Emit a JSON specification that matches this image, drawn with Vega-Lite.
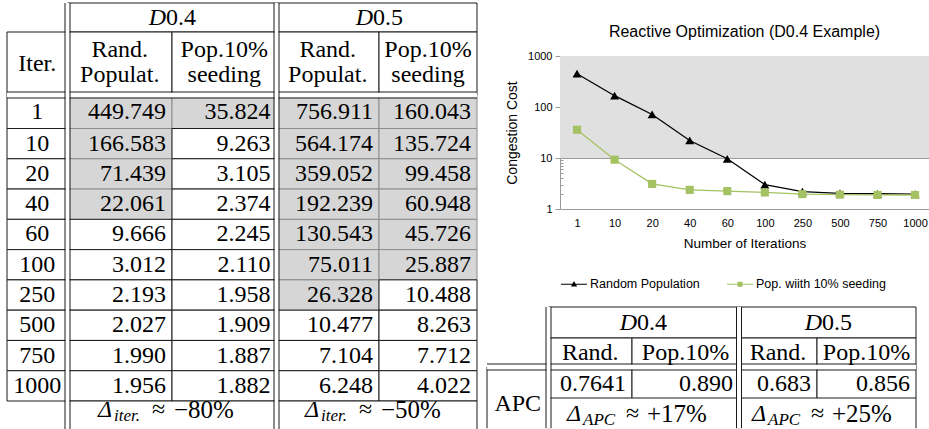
{
  "$schema": "https://vega.github.io/schema/vega-lite/v6.json",
  "padding": 0,
  "background": "white",
  "bounds": "flush",
  "spacing": 82,
  "resolve": {"scale": {"color": "independent"}, "legend": {"color": "independent"}},
  "config": {
    "view": {"stroke": null},
    "font": "Liberation Sans",
    "axis": {"labelFont": "Liberation Sans", "titleFont": "Liberation Sans", "labelColor": "#000", "titleColor": "#000"},
    "axisY": {"titleFontSize": 14, "titleFontWeight": "normal"},
    "axisX": {"titleFontSize": 13.5, "titleFontWeight": "normal"},
    "legend": {"labelFont": "Liberation Sans"}
  },
  "datasets": {
    "cost": [
      {"iter": 1, "series": "Random Population", "value": 449.749},
      {"iter": 10, "series": "Random Population", "value": 166.583},
      {"iter": 20, "series": "Random Population", "value": 71.439},
      {"iter": 40, "series": "Random Population", "value": 22.061},
      {"iter": 60, "series": "Random Population", "value": 9.666},
      {"iter": 100, "series": "Random Population", "value": 3.012},
      {"iter": 250, "series": "Random Population", "value": 2.193},
      {"iter": 500, "series": "Random Population", "value": 2.027},
      {"iter": 750, "series": "Random Population", "value": 1.990},
      {"iter": 1000, "series": "Random Population", "value": 1.956},
      {"iter": 1, "series": "Pop. wiith 10% seeding", "value": 35.824},
      {"iter": 10, "series": "Pop. wiith 10% seeding", "value": 9.263},
      {"iter": 20, "series": "Pop. wiith 10% seeding", "value": 3.105},
      {"iter": 40, "series": "Pop. wiith 10% seeding", "value": 2.374},
      {"iter": 60, "series": "Pop. wiith 10% seeding", "value": 2.245},
      {"iter": 100, "series": "Pop. wiith 10% seeding", "value": 2.110},
      {"iter": 250, "series": "Pop. wiith 10% seeding", "value": 1.958},
      {"iter": 500, "series": "Pop. wiith 10% seeding", "value": 1.909},
      {"iter": 750, "series": "Pop. wiith 10% seeding", "value": 1.887},
      {"iter": 1000, "series": "Pop. wiith 10% seeding", "value": 1.882}
    ],
    "leftTable": [
      {"row": 0, "col": 1, "colspan": 2, "kind": "dhead", "text": "D0.4"},
      {"row": 0, "col": 3, "colspan": 2, "kind": "dhead", "text": "D0.5"},
      {"row": 1, "col": 0, "kind": "head", "text": "Iter."},
      {"row": 1, "col": 1, "kind": "head2", "text": "Rand.\nPopulat."},
      {"row": 1, "col": 2, "kind": "head2", "text": "Pop.10%\nseeding"},
      {"row": 1, "col": 3, "kind": "head2", "text": "Rand.\nPopulat."},
      {"row": 1, "col": 4, "kind": "head2", "text": "Pop.10%\nseeding"},
      {"row": 2, "col": 0, "kind": "iter", "text": "1"},
      {"row": 2, "col": 1, "kind": "val", "text": "449.749", "shaded": true},
      {"row": 2, "col": 2, "kind": "val", "text": "35.824", "shaded": true},
      {"row": 2, "col": 3, "kind": "val", "text": "756.911", "shaded": true},
      {"row": 2, "col": 4, "kind": "val", "text": "160.043", "shaded": true},
      {"row": 3, "col": 0, "kind": "iter", "text": "10"},
      {"row": 3, "col": 1, "kind": "val", "text": "166.583", "shaded": true},
      {"row": 3, "col": 2, "kind": "val", "text": "9.263"},
      {"row": 3, "col": 3, "kind": "val", "text": "564.174", "shaded": true},
      {"row": 3, "col": 4, "kind": "val", "text": "135.724", "shaded": true},
      {"row": 4, "col": 0, "kind": "iter", "text": "20"},
      {"row": 4, "col": 1, "kind": "val", "text": "71.439", "shaded": true},
      {"row": 4, "col": 2, "kind": "val", "text": "3.105"},
      {"row": 4, "col": 3, "kind": "val", "text": "359.052", "shaded": true},
      {"row": 4, "col": 4, "kind": "val", "text": "99.458", "shaded": true},
      {"row": 5, "col": 0, "kind": "iter", "text": "40"},
      {"row": 5, "col": 1, "kind": "val", "text": "22.061", "shaded": true},
      {"row": 5, "col": 2, "kind": "val", "text": "2.374"},
      {"row": 5, "col": 3, "kind": "val", "text": "192.239", "shaded": true},
      {"row": 5, "col": 4, "kind": "val", "text": "60.948", "shaded": true},
      {"row": 6, "col": 0, "kind": "iter", "text": "60"},
      {"row": 6, "col": 1, "kind": "val", "text": "9.666"},
      {"row": 6, "col": 2, "kind": "val", "text": "2.245"},
      {"row": 6, "col": 3, "kind": "val", "text": "130.543", "shaded": true},
      {"row": 6, "col": 4, "kind": "val", "text": "45.726", "shaded": true},
      {"row": 7, "col": 0, "kind": "iter", "text": "100"},
      {"row": 7, "col": 1, "kind": "val", "text": "3.012"},
      {"row": 7, "col": 2, "kind": "val", "text": "2.110"},
      {"row": 7, "col": 3, "kind": "val", "text": "75.011", "shaded": true},
      {"row": 7, "col": 4, "kind": "val", "text": "25.887", "shaded": true},
      {"row": 8, "col": 0, "kind": "iter", "text": "250"},
      {"row": 8, "col": 1, "kind": "val", "text": "2.193"},
      {"row": 8, "col": 2, "kind": "val", "text": "1.958"},
      {"row": 8, "col": 3, "kind": "val", "text": "26.328", "shaded": true},
      {"row": 8, "col": 4, "kind": "val", "text": "10.488"},
      {"row": 9, "col": 0, "kind": "iter", "text": "500"},
      {"row": 9, "col": 1, "kind": "val", "text": "2.027"},
      {"row": 9, "col": 2, "kind": "val", "text": "1.909"},
      {"row": 9, "col": 3, "kind": "val", "text": "10.477"},
      {"row": 9, "col": 4, "kind": "val", "text": "8.263"},
      {"row": 10, "col": 0, "kind": "iter", "text": "750"},
      {"row": 10, "col": 1, "kind": "val", "text": "1.990"},
      {"row": 10, "col": 2, "kind": "val", "text": "1.887"},
      {"row": 10, "col": 3, "kind": "val", "text": "7.104"},
      {"row": 10, "col": 4, "kind": "val", "text": "7.712"},
      {"row": 11, "col": 0, "kind": "iter", "text": "1000"},
      {"row": 11, "col": 1, "kind": "val", "text": "1.956"},
      {"row": 11, "col": 2, "kind": "val", "text": "1.882"},
      {"row": 11, "col": 3, "kind": "val", "text": "6.248"},
      {"row": 11, "col": 4, "kind": "val", "text": "4.022"},
      {"row": 12, "col": 1, "colspan": 2, "kind": "delta", "sym": "Δ", "sub": "iter.", "text": "≈ −80%"},
      {"row": 12, "col": 3, "colspan": 2, "kind": "delta", "sym": "Δ", "sub": "iter.", "text": "≈ −50%"}
    ],
    "smallTable": [
      {"row": 0, "col": 1, "colspan": 2, "kind": "dhead", "text": "D0.4"},
      {"row": 0, "col": 3, "colspan": 2, "kind": "dhead", "text": "D0.5"},
      {"row": 1, "col": 1, "kind": "head", "text": "Rand."},
      {"row": 1, "col": 2, "kind": "head", "text": "Pop.10%"},
      {"row": 1, "col": 3, "kind": "head", "text": "Rand."},
      {"row": 1, "col": 4, "kind": "head", "text": "Pop.10%"},
      {"row": 2, "col": 0, "rowspan": 2, "kind": "rowhead", "text": "APC"},
      {"row": 2, "col": 1, "kind": "val", "text": "0.7641"},
      {"row": 2, "col": 2, "kind": "val", "text": "0.890"},
      {"row": 2, "col": 3, "kind": "val", "text": "0.683"},
      {"row": 2, "col": 4, "kind": "val", "text": "0.856"},
      {"row": 3, "col": 1, "colspan": 2, "kind": "delta", "sym": "Δ", "sub": "APC", "text": "≈ +17%"},
      {"row": 3, "col": 3, "colspan": 2, "kind": "delta", "sym": "Δ", "sub": "APC", "text": "≈ +25%"}
    ]
  },
  "hconcat": [
    {
      "width": 478,
      "height": 429,
      "data": {"name": "leftTable"},
      "transform": [
        {"calculate": "datum.col + (datum.colspan || 1)", "as": "c2"},
        {"calculate": "datum.row + (datum.rowspan || 1)", "as": "r2"},
        {"calculate": "(datum.col + datum.c2) / 2", "as": "cx"},
        {"calculate": "(datum.row + datum.r2) / 2", "as": "cy"},
        {"calculate": "datum.text ? split(datum.text, ' ')[0] : ''", "as": "rel"},
        {"calculate": "datum.text ? split(datum.text, ' ')[1] : ''", "as": "num"}
      ],
      "layer": [
        {
          "transform": [{"filter": "datum.shaded === true"}],
          "mark": {"type": "rect", "fill": "#d6d6d6", "stroke": "#8c8c8c", "strokeWidth": 1, "clip": true},
          "encoding": {
            "x": {"field": "col", "type": "quantitative", "scale": {"domain": [0,1,2,3,4,5], "range": [7,67.5,172,276.5,379,477], "nice": false, "zero": false}, "axis": null},
            "x2": {"field": "c2"},
            "y": {"field": "row", "type": "quantitative", "scale": {"domain": [0,1,2,3,12,13], "range": [3,32,95,128.5,401,431], "nice": false, "zero": false}, "axis": null},
            "y2": {"field": "r2"}
          }
        },
        {
          "transform": [{"filter": "datum.shaded !== true"}],
          "mark": {"type": "rect", "fill": "#ffffff", "stroke": "#1a1a1a", "strokeWidth": 1, "clip": true},
          "encoding": {
            "x": {"field": "col", "type": "quantitative", "scale": {"domain": [0,1,2,3,4,5], "range": [7,67.5,172,276.5,379,477], "nice": false, "zero": false}, "axis": null},
            "x2": {"field": "c2"},
            "y": {"field": "row", "type": "quantitative", "scale": {"domain": [0,1,2,3,12,13], "range": [3,32,95,128.5,401,431], "nice": false, "zero": false}, "axis": null},
            "y2": {"field": "r2"}
          }
        },
        {
          "data": {"values": [{"edge": 2}]},
          "mark": {"type": "rule", "color": "#ffffff", "strokeWidth": 5, "clip": true},
          "encoding": {
            "y": {"field": "edge", "type": "quantitative", "scale": {"domain": [0,1,2,3,12,13], "range": [3,32,95,128.5,401,431], "nice": false, "zero": false}, "axis": null},
            "x": {"datum": 0, "type": "quantitative", "scale": {"domain": [0,1,2,3,4,5], "range": [7,67.5,172,276.5,379,477], "nice": false, "zero": false}, "axis": null},
            "x2": {"datum": 5}
          }
        },
        {
          "data": {"values": [{"edge": 2}]},
          "mark": {"type": "rule", "color": "#1a1a1a", "strokeWidth": 1, "yOffset": -3, "clip": true},
          "encoding": {
            "y": {"field": "edge", "type": "quantitative", "scale": {"domain": [0,1,2,3,12,13], "range": [3,32,95,128.5,401,431], "nice": false, "zero": false}, "axis": null},
            "x": {"datum": 0, "type": "quantitative", "scale": {"domain": [0,1,2,3,4,5], "range": [7,67.5,172,276.5,379,477], "nice": false, "zero": false}, "axis": null},
            "x2": {"datum": 5}
          }
        },
        {
          "data": {"values": [{"edge": 2}]},
          "mark": {"type": "rule", "color": "#1a1a1a", "strokeWidth": 1, "yOffset": 3, "clip": true},
          "encoding": {
            "y": {"field": "edge", "type": "quantitative", "scale": {"domain": [0,1,2,3,12,13], "range": [3,32,95,128.5,401,431], "nice": false, "zero": false}, "axis": null},
            "x": {"datum": 0, "type": "quantitative", "scale": {"domain": [0,1,2,3,4,5], "range": [7,67.5,172,276.5,379,477], "nice": false, "zero": false}, "axis": null},
            "x2": {"datum": 5}
          }
        },
        {
          "data": {"values": [{"edge": 1}, {"edge": 3}]},
          "mark": {"type": "rule", "color": "#ffffff", "strokeWidth": 4, "clip": true},
          "encoding": {
            "x": {"field": "edge", "type": "quantitative", "scale": {"domain": [0,1,2,3,4,5], "range": [7,67.5,172,276.5,379,477], "nice": false, "zero": false}, "axis": null},
            "y": {"datum": 0, "type": "quantitative", "scale": {"domain": [0,1,2,3,12,13], "range": [3,32,95,128.5,401,431], "nice": false, "zero": false}, "axis": null},
            "y2": {"datum": 13}
          }
        },
        {
          "data": {"values": [{"edge": 1}, {"edge": 3}]},
          "mark": {"type": "rule", "color": "#1a1a1a", "strokeWidth": 1, "xOffset": -2.5, "clip": true},
          "encoding": {
            "x": {"field": "edge", "type": "quantitative", "scale": {"domain": [0,1,2,3,4,5], "range": [7,67.5,172,276.5,379,477], "nice": false, "zero": false}, "axis": null},
            "y": {"datum": 0, "type": "quantitative", "scale": {"domain": [0,1,2,3,12,13], "range": [3,32,95,128.5,401,431], "nice": false, "zero": false}, "axis": null},
            "y2": {"datum": 13}
          }
        },
        {
          "data": {"values": [{"edge": 1}, {"edge": 3}]},
          "mark": {"type": "rule", "color": "#1a1a1a", "strokeWidth": 1, "xOffset": 2.5, "clip": true},
          "encoding": {
            "x": {"field": "edge", "type": "quantitative", "scale": {"domain": [0,1,2,3,4,5], "range": [7,67.5,172,276.5,379,477], "nice": false, "zero": false}, "axis": null},
            "y": {"datum": 0, "type": "quantitative", "scale": {"domain": [0,1,2,3,12,13], "range": [3,32,95,128.5,401,431], "nice": false, "zero": false}, "axis": null},
            "y2": {"datum": 13}
          }
        },
        {
          "transform": [{"filter": "datum.kind === 'head' || datum.kind === 'iter'"}],
          "mark": {"type": "text", "font": "Liberation Serif", "fontSize": 24, "baseline": "middle", "align": "center", "color": "#000"},
          "encoding": {
            "x": {"field": "cx", "type": "quantitative", "scale": {"domain": [0,1,2,3,4,5], "range": [7,67.5,172,276.5,379,477], "nice": false, "zero": false}, "axis": null},
            "y": {"field": "cy", "type": "quantitative", "scale": {"domain": [0,1,2,3,12,13], "range": [3,32,95,128.5,401,431], "nice": false, "zero": false}, "axis": null},
            "text": {"field": "text"}
          }
        },
        {
          "transform": [{"filter": "datum.kind === 'head2'"}],
          "mark": {"type": "text", "font": "Liberation Serif", "fontSize": 24, "baseline": "middle", "align": "center", "lineBreak": "\n", "lineHeight": 25, "dy": -14, "color": "#000"},
          "encoding": {
            "x": {"field": "cx", "type": "quantitative", "scale": {"domain": [0,1,2,3,4,5], "range": [7,67.5,172,276.5,379,477], "nice": false, "zero": false}, "axis": null},
            "y": {"field": "cy", "type": "quantitative", "scale": {"domain": [0,1,2,3,12,13], "range": [3,32,95,128.5,401,431], "nice": false, "zero": false}, "axis": null},
            "text": {"field": "text"}
          }
        },
        {
          "transform": [{"filter": "datum.kind === 'val'"}],
          "mark": {"type": "text", "font": "Liberation Serif", "fontSize": 24, "baseline": "middle", "align": "right", "dx": -6, "color": "#000"},
          "encoding": {
            "x": {"field": "c2", "type": "quantitative", "scale": {"domain": [0,1,2,3,4,5], "range": [7,67.5,172,276.5,379,477], "nice": false, "zero": false}, "axis": null},
            "y": {"field": "cy", "type": "quantitative", "scale": {"domain": [0,1,2,3,12,13], "range": [3,32,95,128.5,401,431], "nice": false, "zero": false}, "axis": null},
            "text": {"field": "text"}
          }
        },
        {
          "transform": [{"filter": "datum.kind === 'dhead'"}, {"calculate": "substring(datum.text, 0, 1)", "as": "lead"}],
          "mark": {"type": "text", "font": "Liberation Serif", "fontSize": 24, "fontStyle": "italic", "baseline": "middle", "align": "right", "dx": -6, "color": "#000"},
          "encoding": {
            "x": {"field": "cx", "type": "quantitative", "scale": {"domain": [0,1,2,3,4,5], "range": [7,67.5,172,276.5,379,477], "nice": false, "zero": false}, "axis": null},
            "y": {"field": "cy", "type": "quantitative", "scale": {"domain": [0,1,2,3,12,13], "range": [3,32,95,128.5,401,431], "nice": false, "zero": false}, "axis": null},
            "text": {"field": "lead"}
          }
        },
        {
          "transform": [{"filter": "datum.kind === 'dhead'"}, {"calculate": "substring(datum.text, 1)", "as": "tail"}],
          "mark": {"type": "text", "font": "Liberation Serif", "fontSize": 24, "baseline": "middle", "align": "left", "dx": -6, "color": "#000"},
          "encoding": {
            "x": {"field": "cx", "type": "quantitative", "scale": {"domain": [0,1,2,3,4,5], "range": [7,67.5,172,276.5,379,477], "nice": false, "zero": false}, "axis": null},
            "y": {"field": "cy", "type": "quantitative", "scale": {"domain": [0,1,2,3,12,13], "range": [3,32,95,128.5,401,431], "nice": false, "zero": false}, "axis": null},
            "text": {"field": "tail"}
          }
        },
        {
          "transform": [{"filter": "datum.kind === 'delta'"}],
          "mark": {"type": "text", "font": "Liberation Serif", "fontSize": 24, "fontStyle": "italic", "baseline": "middle", "align": "left", "dx": -74, "dy": -6, "color": "#000"},
          "encoding": {
            "x": {"field": "cx", "type": "quantitative", "scale": {"domain": [0,1,2,3,4,5], "range": [7,67.5,172,276.5,379,477], "nice": false, "zero": false}, "axis": null},
            "y": {"field": "cy", "type": "quantitative", "scale": {"domain": [0,1,2,3,12,13], "range": [3,32,95,128.5,401,431], "nice": false, "zero": false}, "axis": null},
            "text": {"field": "sym"}
          }
        },
        {
          "transform": [{"filter": "datum.kind === 'delta'"}],
          "mark": {"type": "text", "font": "Liberation Serif", "fontSize": 17, "fontStyle": "italic", "baseline": "middle", "align": "left", "dx": -58, "dy": 0, "color": "#000"},
          "encoding": {
            "x": {"field": "cx", "type": "quantitative", "scale": {"domain": [0,1,2,3,4,5], "range": [7,67.5,172,276.5,379,477], "nice": false, "zero": false}, "axis": null},
            "y": {"field": "cy", "type": "quantitative", "scale": {"domain": [0,1,2,3,12,13], "range": [3,32,95,128.5,401,431], "nice": false, "zero": false}, "axis": null},
            "text": {"field": "sub"}
          }
        },
        {
          "transform": [{"filter": "datum.kind === 'delta'"}],
          "mark": {"type": "text", "font": "Liberation Serif", "fontSize": 24, "baseline": "middle", "align": "left", "dx": -20, "dy": -6, "color": "#000"},
          "encoding": {
            "x": {"field": "cx", "type": "quantitative", "scale": {"domain": [0,1,2,3,4,5], "range": [7,67.5,172,276.5,379,477], "nice": false, "zero": false}, "axis": null},
            "y": {"field": "cy", "type": "quantitative", "scale": {"domain": [0,1,2,3,12,13], "range": [3,32,95,128.5,401,431], "nice": false, "zero": false}, "axis": null},
            "text": {"field": "rel"}
          }
        },
        {
          "transform": [{"filter": "datum.kind === 'delta'"}],
          "mark": {"type": "text", "font": "Liberation Serif", "fontSize": 25, "baseline": "middle", "align": "left", "dx": 2, "dy": -6, "color": "#000"},
          "encoding": {
            "x": {"field": "cx", "type": "quantitative", "scale": {"domain": [0,1,2,3,4,5], "range": [7,67.5,172,276.5,379,477], "nice": false, "zero": false}, "axis": null},
            "y": {"field": "cy", "type": "quantitative", "scale": {"domain": [0,1,2,3,12,13], "range": [3,32,95,128.5,401,431], "nice": false, "zero": false}, "axis": null},
            "text": {"field": "num"}
          }
        }
      ]
    },
    {
      "resolve": {"scale": {"color": "independent"}, "legend": {"color": "independent"}},
      "vconcat": [
        {
          "width": 369,
          "height": 50,
          "data": {"values": [{"title": "Reactive Optimization (D0.4 Example)"}]},
          "mark": {"type": "text", "font": "Liberation Sans", "fontSize": 16, "baseline": "middle", "align": "center", "dy": 7, "color": "#000"},
          "encoding": {"text": {"field": "title"}}
        },
        {
          "width": 369,
          "height": 153,
          "data": {"name": "cost"},
          "layer": [
            {
              "data": {"values": [{"lo": 10, "hi": 1000}]},
              "mark": {"type": "rect", "color": "#e0e0e0"},
              "encoding": {
                "y": {"field": "lo", "type": "quantitative", "scale": {"type": "log", "domain": [1, 1000], "nice": false},
                  "axis": {"title": "Congestion Cost", "values": [1,2,3,4,5,6,7,8,9,10,20,30,40,50,60,70,80,90,100,200,300,400,500,600,700,800,900,1000], "format": "d",
                    "labelExpr": "(datum.value == 1 || datum.value == 10 || datum.value == 100 || datum.value == 1000) ? datum.label : ''",
                    "grid": true, "gridColor": "#9a9a9a",
                    "gridOpacity": {"condition": {"test": "datum.value == 10 || datum.value == 100 || datum.value == 1000", "value": 1}, "value": 0},
                    "tickSize": {"condition": {"test": "datum.value == 1 || datum.value == 10 || datum.value == 100 || datum.value == 1000", "value": 5}, "value": -3},
                    "tickColor": "#9a9a9a", "domainColor": "#9a9a9a", "labelFontSize": 11, "labelPadding": 3, "labelOverlap": false,
                    "titleFontSize": 14, "titleFontWeight": "normal", "titlePadding": 8}},
                "y2": {"field": "hi"}
              }
            },
            {
              "mark": {"type": "line", "strokeWidth": 1.3},
              "encoding": {
                "x": {"field": "iter", "type": "ordinal", "scale": {"type": "point", "padding": 0.412, "align": 0.55},
                  "axis": {"title": "Number of Iterations", "labelAngle": 0, "ticks": false, "labelPadding": 8, "domainColor": "#9a9a9a", "labelFontSize": 11, "titleFontSize": 13.5, "titleFontWeight": "normal", "titlePadding": 8, "grid": false}},
                "y": {"field": "value", "type": "quantitative", "scale": {"type": "log", "domain": [1, 1000], "nice": false},
                  "axis": {"title": "Congestion Cost", "values": [1,2,3,4,5,6,7,8,9,10,20,30,40,50,60,70,80,90,100,200,300,400,500,600,700,800,900,1000], "format": "d",
                    "labelExpr": "(datum.value == 1 || datum.value == 10 || datum.value == 100 || datum.value == 1000) ? datum.label : ''",
                    "grid": true, "gridColor": "#9a9a9a",
                    "gridOpacity": {"condition": {"test": "datum.value == 10 || datum.value == 100 || datum.value == 1000", "value": 1}, "value": 0},
                    "tickSize": {"condition": {"test": "datum.value == 1 || datum.value == 10 || datum.value == 100 || datum.value == 1000", "value": 5}, "value": -3},
                    "tickColor": "#9a9a9a", "domainColor": "#9a9a9a", "labelFontSize": 11, "labelPadding": 3, "labelOverlap": false,
                    "titleFontSize": 14, "titleFontWeight": "normal", "titlePadding": 8}},
                "color": {"field": "series", "type": "nominal",
                  "scale": {"domain": ["Random Population", "Pop. wiith 10% seeding"], "range": ["#000000", "#a4c262"]},
                  "legend": {"title": null, "orient": "bottom", "direction": "horizontal", "offset": 20, "labelFontSize": 12.5, "labelColor": "#000", "symbolSize": 676, "labelOffset": 2, "columnPadding": 24,
                    "encode": {"symbols": {"update": {
                      "shape": {"signal": "datum.value === 'Random Population' ? 'M-1,0H1M-0.16,0.13L0,-0.15L0.16,0.13Z' : 'M-1,0H1M-0.15,-0.15H0.15V0.15H-0.15Z'"},
                      "fill": {"signal": "datum.value === 'Random Population' ? '#000000' : '#a4c262'"},
                      "stroke": {"signal": "datum.value === 'Random Population' ? '#000000' : '#a4c262'"},
                      "strokeWidth": {"value": 1.2},
                      "opacity": {"value": 1}
                    }}}}}
              }
            },
            {
              "transform": [{"filter": "datum.series === 'Random Population'"}],
              "mark": {"type": "point", "shape": "triangle-up", "filled": true, "opacity": 1, "size": 80},
              "encoding": {
                "x": {"field": "iter", "type": "ordinal", "scale": {"type": "point", "padding": 0.412, "align": 0.55}},
                "y": {"field": "value", "type": "quantitative", "scale": {"type": "log", "domain": [1, 1000], "nice": false}},
                "color": {"field": "series", "type": "nominal", "scale": {"domain": ["Random Population", "Pop. wiith 10% seeding"], "range": ["#000000", "#a4c262"]}}
              }
            },
            {
              "transform": [{"filter": "datum.series !== 'Random Population'"}],
              "mark": {"type": "point", "shape": "square", "filled": true, "opacity": 1, "size": 66},
              "encoding": {
                "x": {"field": "iter", "type": "ordinal", "scale": {"type": "point", "padding": 0.412, "align": 0.55}},
                "y": {"field": "value", "type": "quantitative", "scale": {"type": "log", "domain": [1, 1000], "nice": false}},
                "color": {"field": "series", "type": "nominal", "scale": {"domain": ["Random Population", "Pop. wiith 10% seeding"], "range": ["#000000", "#a4c262"]}}
              }
            }
          ]
        },
        {
          "width": 369,
          "height": 214,
          "data": {"name": "smallTable"},
          "transform": [
            {"calculate": "datum.col + (datum.colspan || 1)", "as": "c2"},
            {"calculate": "datum.row + (datum.rowspan || 1)", "as": "r2"},
            {"calculate": "(datum.col + datum.c2) / 2", "as": "cx"},
            {"calculate": "(datum.row + datum.r2) / 2", "as": "cy"},
            {"calculate": "datum.text ? split(datum.text, ' ')[0] : ''", "as": "rel"},
            {"calculate": "datum.text ? split(datum.text, ' ')[1] : ''", "as": "num"}
          ],
          "layer": [
            {
              "transform": [{"filter": "datum.r2 < 4"}],
              "mark": {"type": "rect", "fill": "#ffffff", "stroke": "#1a1a1a", "strokeWidth": 1},
              "encoding": {
                "x": {"field": "col", "type": "quantitative", "scale": {"domain": [0,1,2,3,4,5], "range": [-73,-11.5,72,179,257,356], "nice": false, "zero": false}, "axis": null},
                "x2": {"field": "c2"},
                "y": {"field": "row", "type": "quantitative", "scale": {"domain": [0,1,2,3,4], "range": [92,123,152,183,225], "nice": false, "zero": false}, "axis": null},
                "y2": {"field": "r2"}
              }
            },
            {
              "transform": [{"filter": "datum.r2 >= 4"}],
              "mark": {"type": "rule", "color": "#1a1a1a", "strokeWidth": 1},
              "encoding": {
                "x": {"field": "col", "type": "quantitative", "scale": {"domain": [0,1,2,3,4,5], "range": [-73,-11.5,72,179,257,356], "nice": false, "zero": false}, "axis": null},
                "y": {"field": "row", "type": "quantitative", "scale": {"domain": [0,1,2,3,4], "range": [92,123,152,183,225], "nice": false, "zero": false}, "axis": null},
                "y2": {"datum": 3.72}
              }
            },
            {
              "transform": [{"filter": "datum.r2 >= 4"}],
              "mark": {"type": "rule", "color": "#1a1a1a", "strokeWidth": 1},
              "encoding": {
                "x": {"field": "c2", "type": "quantitative", "scale": {"domain": [0,1,2,3,4,5], "range": [-73,-11.5,72,179,257,356], "nice": false, "zero": false}, "axis": null},
                "y": {"field": "row", "type": "quantitative", "scale": {"domain": [0,1,2,3,4], "range": [92,123,152,183,225], "nice": false, "zero": false}, "axis": null},
                "y2": {"datum": 3.72}
              }
            },
            {
              "data": {"values": [{"edge": 2}]},
              "mark": {"type": "rule", "color": "#ffffff", "strokeWidth": 5},
              "encoding": {
                "y": {"field": "edge", "type": "quantitative", "scale": {"domain": [0,1,2,3,4], "range": [92,123,152,183,225], "nice": false, "zero": false}, "axis": null},
                "x": {"datum": 0, "type": "quantitative", "scale": {"domain": [0,1,2,3,4,5], "range": [-73,-11.5,72,179,257,356], "nice": false, "zero": false}, "axis": null},
                "x2": {"datum": 5}
              }
            },
            {
              "data": {"values": [{"edge": 2}]},
              "mark": {"type": "rule", "color": "#1a1a1a", "strokeWidth": 1, "yOffset": -3},
              "encoding": {
                "y": {"field": "edge", "type": "quantitative", "scale": {"domain": [0,1,2,3,4], "range": [92,123,152,183,225], "nice": false, "zero": false}, "axis": null},
                "x": {"datum": 0, "type": "quantitative", "scale": {"domain": [0,1,2,3,4,5], "range": [-73,-11.5,72,179,257,356], "nice": false, "zero": false}, "axis": null},
                "x2": {"datum": 5}
              }
            },
            {
              "data": {"values": [{"edge": 2}]},
              "mark": {"type": "rule", "color": "#1a1a1a", "strokeWidth": 1, "yOffset": 3},
              "encoding": {
                "y": {"field": "edge", "type": "quantitative", "scale": {"domain": [0,1,2,3,4], "range": [92,123,152,183,225], "nice": false, "zero": false}, "axis": null},
                "x": {"datum": 0, "type": "quantitative", "scale": {"domain": [0,1,2,3,4,5], "range": [-73,-11.5,72,179,257,356], "nice": false, "zero": false}, "axis": null},
                "x2": {"datum": 5}
              }
            },
            {
              "data": {"values": [{"edge": 1}, {"edge": 3}]},
              "mark": {"type": "rule", "color": "#ffffff", "strokeWidth": 4},
              "encoding": {
                "x": {"field": "edge", "type": "quantitative", "scale": {"domain": [0,1,2,3,4,5], "range": [-73,-11.5,72,179,257,356], "nice": false, "zero": false}, "axis": null},
                "y": {"datum": 0, "type": "quantitative", "scale": {"domain": [0,1,2,3,4], "range": [92,123,152,183,225], "nice": false, "zero": false}, "axis": null},
                "y2": {"datum": 3.72}
              }
            },
            {
              "data": {"values": [{"edge": 1}, {"edge": 3}]},
              "mark": {"type": "rule", "color": "#1a1a1a", "strokeWidth": 1, "xOffset": -2.5},
              "encoding": {
                "x": {"field": "edge", "type": "quantitative", "scale": {"domain": [0,1,2,3,4,5], "range": [-73,-11.5,72,179,257,356], "nice": false, "zero": false}, "axis": null},
                "y": {"datum": 0, "type": "quantitative", "scale": {"domain": [0,1,2,3,4], "range": [92,123,152,183,225], "nice": false, "zero": false}, "axis": null},
                "y2": {"datum": 3.72}
              }
            },
            {
              "data": {"values": [{"edge": 1}, {"edge": 3}]},
              "mark": {"type": "rule", "color": "#1a1a1a", "strokeWidth": 1, "xOffset": 2.5},
              "encoding": {
                "x": {"field": "edge", "type": "quantitative", "scale": {"domain": [0,1,2,3,4,5], "range": [-73,-11.5,72,179,257,356], "nice": false, "zero": false}, "axis": null},
                "y": {"datum": 0, "type": "quantitative", "scale": {"domain": [0,1,2,3,4], "range": [92,123,152,183,225], "nice": false, "zero": false}, "axis": null},
                "y2": {"datum": 3.72}
              }
            },
            {
              "transform": [{"filter": "datum.kind === 'head'"}],
              "mark": {"type": "text", "font": "Liberation Serif", "fontSize": 24, "baseline": "middle", "align": "center", "color": "#000"},
              "encoding": {
                "x": {"field": "cx", "type": "quantitative", "scale": {"domain": [0,1,2,3,4,5], "range": [-73,-11.5,72,179,257,356], "nice": false, "zero": false}, "axis": null},
                "y": {"field": "cy", "type": "quantitative", "scale": {"domain": [0,1,2,3,4], "range": [92,123,152,183,225], "nice": false, "zero": false}, "axis": null},
                "text": {"field": "text"}
              }
            },
            {
              "transform": [{"filter": "datum.kind === 'rowhead'"}],
              "mark": {"type": "text", "font": "Liberation Serif", "fontSize": 24, "baseline": "middle", "align": "center", "dy": 6, "color": "#000"},
              "encoding": {
                "x": {"field": "cx", "type": "quantitative", "scale": {"domain": [0,1,2,3,4,5], "range": [-73,-11.5,72,179,257,356], "nice": false, "zero": false}, "axis": null},
                "y": {"field": "cy", "type": "quantitative", "scale": {"domain": [0,1,2,3,4], "range": [92,123,152,183,225], "nice": false, "zero": false}, "axis": null},
                "text": {"field": "text"}
              }
            },
            {
              "transform": [{"filter": "datum.kind === 'val'"}],
              "mark": {"type": "text", "font": "Liberation Serif", "fontSize": 24, "baseline": "middle", "align": "right", "dx": -6, "dy": 1, "color": "#000"},
              "encoding": {
                "x": {"field": "c2", "type": "quantitative", "scale": {"domain": [0,1,2,3,4,5], "range": [-73,-11.5,72,179,257,356], "nice": false, "zero": false}, "axis": null},
                "y": {"field": "cy", "type": "quantitative", "scale": {"domain": [0,1,2,3,4], "range": [92,123,152,183,225], "nice": false, "zero": false}, "axis": null},
                "text": {"field": "text"}
              }
            },
            {
              "transform": [{"filter": "datum.kind === 'dhead'"}, {"calculate": "substring(datum.text, 0, 1)", "as": "lead"}],
              "mark": {"type": "text", "font": "Liberation Serif", "fontSize": 24, "fontStyle": "italic", "baseline": "middle", "align": "right", "dx": 5, "color": "#000"},
              "encoding": {
                "x": {"field": "cx", "type": "quantitative", "scale": {"domain": [0,1,2,3,4,5], "range": [-73,-11.5,72,179,257,356], "nice": false, "zero": false}, "axis": null},
                "y": {"field": "cy", "type": "quantitative", "scale": {"domain": [0,1,2,3,4], "range": [92,123,152,183,225], "nice": false, "zero": false}, "axis": null},
                "text": {"field": "lead"}
              }
            },
            {
              "transform": [{"filter": "datum.kind === 'dhead'"}, {"calculate": "substring(datum.text, 1)", "as": "tail"}],
              "mark": {"type": "text", "font": "Liberation Serif", "fontSize": 24, "baseline": "middle", "align": "left", "dx": 5, "color": "#000"},
              "encoding": {
                "x": {"field": "cx", "type": "quantitative", "scale": {"domain": [0,1,2,3,4,5], "range": [-73,-11.5,72,179,257,356], "nice": false, "zero": false}, "axis": null},
                "y": {"field": "cy", "type": "quantitative", "scale": {"domain": [0,1,2,3,4], "range": [92,123,152,183,225], "nice": false, "zero": false}, "axis": null},
                "text": {"field": "tail"}
              }
            },
            {
              "transform": [{"filter": "datum.kind === 'delta'"}],
              "mark": {"type": "text", "font": "Liberation Serif", "fontSize": 24, "fontStyle": "italic", "baseline": "middle", "align": "left", "dx": -65, "dy": -5, "color": "#000"},
              "encoding": {
                "x": {"field": "cx", "type": "quantitative", "scale": {"domain": [0,1,2,3,4,5], "range": [-73,-11.5,72,179,257,356], "nice": false, "zero": false}, "axis": null},
                "y": {"field": "cy", "type": "quantitative", "scale": {"domain": [0,1,2,3,4], "range": [92,123,152,183,225], "nice": false, "zero": false}, "axis": null},
                "text": {"field": "sym"}
              }
            },
            {
              "transform": [{"filter": "datum.kind === 'delta'"}],
              "mark": {"type": "text", "font": "Liberation Serif", "fontSize": 17, "fontStyle": "italic", "baseline": "middle", "align": "left", "dx": -49, "dy": 1, "color": "#000"},
              "encoding": {
                "x": {"field": "cx", "type": "quantitative", "scale": {"domain": [0,1,2,3,4,5], "range": [-73,-11.5,72,179,257,356], "nice": false, "zero": false}, "axis": null},
                "y": {"field": "cy", "type": "quantitative", "scale": {"domain": [0,1,2,3,4], "range": [92,123,152,183,225], "nice": false, "zero": false}, "axis": null},
                "text": {"field": "sub"}
              }
            },
            {
              "transform": [{"filter": "datum.kind === 'delta'"}],
              "mark": {"type": "text", "font": "Liberation Serif", "fontSize": 24, "baseline": "middle", "align": "left", "dx": -6, "dy": -5, "color": "#000"},
              "encoding": {
                "x": {"field": "cx", "type": "quantitative", "scale": {"domain": [0,1,2,3,4,5], "range": [-73,-11.5,72,179,257,356], "nice": false, "zero": false}, "axis": null},
                "y": {"field": "cy", "type": "quantitative", "scale": {"domain": [0,1,2,3,4], "range": [92,123,152,183,225], "nice": false, "zero": false}, "axis": null},
                "text": {"field": "rel"}
              }
            },
            {
              "transform": [{"filter": "datum.kind === 'delta'"}],
              "mark": {"type": "text", "font": "Liberation Serif", "fontSize": 25, "baseline": "middle", "align": "left", "dx": 15, "dy": -5, "color": "#000"},
              "encoding": {
                "x": {"field": "cx", "type": "quantitative", "scale": {"domain": [0,1,2,3,4,5], "range": [-73,-11.5,72,179,257,356], "nice": false, "zero": false}, "axis": null},
                "y": {"field": "cy", "type": "quantitative", "scale": {"domain": [0,1,2,3,4], "range": [92,123,152,183,225], "nice": false, "zero": false}, "axis": null},
                "text": {"field": "num"}
              }
            }
          ]
        }
      ],
      "spacing": 6,
      "bounds": "flush"
    }
  ]
}
